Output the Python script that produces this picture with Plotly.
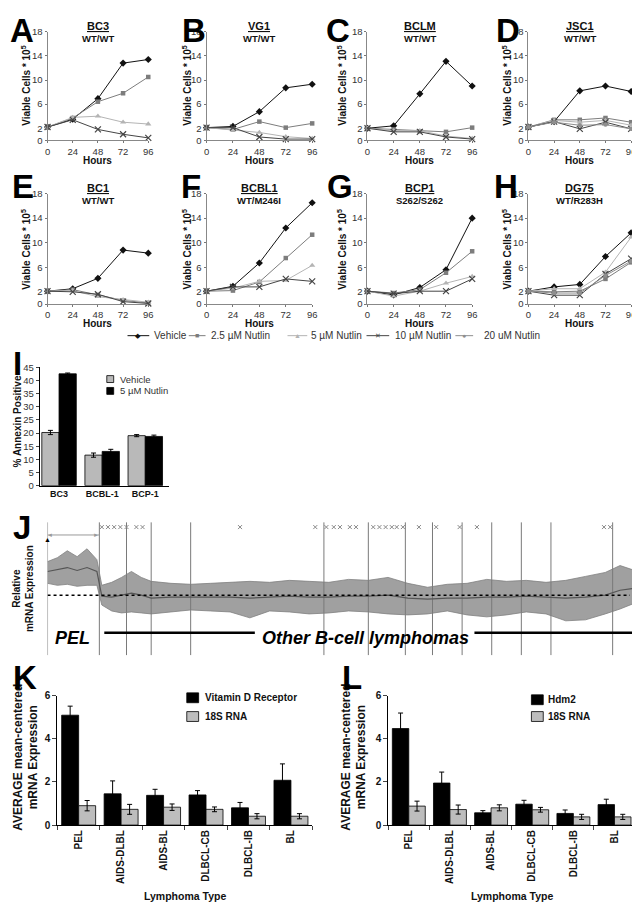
import plotly.graph_objects as go

# ================= DATA =================
hours = [0, 24, 48, 72, 96]
growth_yticks = [0, 2, 6, 10, 14, 18]
treatments = ["Vehicle", "2.5 µM Nutlin", "5 µM Nutlin", "10 µM Nutlin", "20 uM Nutlin"]

cell_lines = ["BC3", "VG1", "BCLM", "JSC1", "BC1", "BCBL1", "BCP1", "DG75"]
genotypes = ["WT/WT", "WT/WT", "WT/WT", "WT/WT", "WT/WT", "WT/M246I", "S262/S262", "WT/R283H"]
panel_letters = ["A", "B", "C", "D", "E", "F", "G", "H"]

# viable cells * 10^5 at 0/24/48/72/96 h
bc3_vehicle = [2.2, 3.5, 6.9, 12.8, 13.4]
bc3_n2_5 = [2.2, 3.7, 6.4, 7.8, 10.5]
bc3_n5 = [2.2, 3.8, 4.0, 3.0, 2.7]
bc3_n10 = [2.2, 3.4, 1.8, 1.0, 0.4]

vg1_vehicle = [2.1, 2.3, 4.75, 8.7, 9.3]
vg1_n2_5 = [2.1, 1.8, 3.1, 2.1, 2.8]
vg1_n5 = [2.1, 1.7, 1.3, 0.6, 0.3]
vg1_n10 = [2.1, 2.1, 0.55, 0.2, 0.2]

bclm_vehicle = [2.0, 2.4, 7.7, 13.1, 9.0]
bclm_n2_5 = [2.0, 1.8, 1.5, 1.4, 2.1]
bclm_n5 = [2.0, 1.6, 1.6, 0.7, 0.3]
bclm_n10 = [2.0, 1.4, 1.4, 0.55, 0.2]

jsc1_vehicle = [2.2, 3.1, 8.2, 9.0, 8.1]
jsc1_n2_5 = [2.2, 3.4, 3.4, 3.7, 3.0]
jsc1_n5 = [2.2, 3.3, 3.0, 3.3, 2.5]
jsc1_n10 = [2.2, 3.1, 1.9, 3.0, 1.9]
jsc1_n20 = [2.2, 3.0, 2.5, 2.6, 1.9]

bc1_vehicle = [2.1, 2.5, 4.2, 8.8, 8.3]
bc1_n2_5 = [2.1, 2.35, 1.5, 0.6, 0.2]
bc1_n5 = [2.1, 2.2, 1.2, 0.7, 0.3]
bc1_n10 = [2.1, 2.0, 1.6, 0.4, 0.1]

bcbl1_vehicle = [2.1, 2.9, 6.7, 12.4, 16.5]
bcbl1_n2_5 = [2.1, 2.2, 3.6, 7.5, 11.3]
bcbl1_n5 = [2.1, 2.6, 3.7, 3.85, 6.3]
bcbl1_n10 = [2.1, 2.8, 2.8, 4.1, 3.7]

bcp1_vehicle = [2.1, 1.5, 2.7, 5.6, 14.0]
bcp1_n2_5 = [2.1, 1.8, 2.35, 5.1, 8.6]
bcp1_n5 = [2.1, 1.3, 2.1, 3.4, 4.5]
bcp1_n10 = [2.1, 1.7, 2.1, 2.1, 4.1]

dg75_vehicle = [2.1, 2.8, 3.2, 7.75, 11.6]
dg75_n2_5 = [2.1, 2.0, 2.1, 4.1, 6.8]
dg75_n5 = [2.1, 2.5, 2.5, 5.2, 10.9]
dg75_n10 = [2.1, 1.45, 1.45, 4.9, 7.4]
dg75_n20 = [2.1, 1.8, 1.8, 4.65, 7.0]

growth = [
    [bc3_vehicle, bc3_n2_5, bc3_n5, bc3_n10, None],
    [vg1_vehicle, vg1_n2_5, vg1_n5, vg1_n10, None],
    [bclm_vehicle, bclm_n2_5, bclm_n5, bclm_n10, None],
    [jsc1_vehicle, jsc1_n2_5, jsc1_n5, jsc1_n10, jsc1_n20],
    [bc1_vehicle, bc1_n2_5, bc1_n5, bc1_n10, None],
    [bcbl1_vehicle, bcbl1_n2_5, bcbl1_n5, bcbl1_n10, None],
    [bcp1_vehicle, bcp1_n2_5, bcp1_n5, bcp1_n10, None],
    [dg75_vehicle, dg75_n2_5, dg75_n5, dg75_n10, dg75_n20],
]

# Panel I : % Annexin positive
annexin_cells = ["BC3", "BCBL-1", "BCP-1"]
annexin_groups = ["Vehicle", "5 µM Nutlin"]
annexin_vehicle = [20.2, 11.6, 19.0]
annexin_vehicle_err = [0.8, 0.8, 0.4]
annexin_nutlin = [42.5, 13.0, 18.7]
annexin_nutlin_err = [0.3, 0.8, 0.5]

# Panel J : expression envelope across samples
j_sample = [0, 4, 8, 12, 16, 20, 22, 26, 30, 34, 38, 42, 50, 58, 66, 74, 82, 90, 98,
            106, 114, 122, 130, 138, 146, 154, 162, 170, 178, 186, 194, 202, 210, 218,
            226, 232, 238]
j_upper = [3.4, 3.8, 4.5, 3.9, 4.7, 3.6, 1.0, 1.3, 1.8, 2.4, 1.8, 1.4, 1.2, 1.1, 1.2,
           1.3, 1.4, 1.3, 1.5, 1.4, 1.3, 1.6, 1.5, 1.8, 1.2, 0.8, 1.1, 1.2, 1.6, 1.4,
           1.5, 1.3, 1.5, 1.9, 2.3, 3.0, 2.5]
j_lower = [1.2, 1.0, 1.1, 0.9, 1.0, 1.0, -1.0, -1.6, -1.8, -1.7, -1.8, -1.9, -1.7, -1.5,
           -1.6, -1.7, -2.3, -1.6, -1.7, -1.9, -1.8, -1.6, -1.7, -1.9, -2.0, -1.9, -1.6,
           -2.0, -2.2, -2.0, -1.7, -1.9, -2.6, -2.5, -1.9, -1.4, -0.8]
j_mean = [2.4, 2.6, 2.8, 2.5, 2.8, 2.4, -0.1, -0.2, 0.0, 0.2, 0.0, -0.3, -0.2, -0.2,
          -0.2, -0.2, -0.3, -0.2, -0.1, -0.2, -0.2, -0.1, -0.1, 0.0, -0.3, -0.4, -0.3,
          -0.3, -0.2, -0.2, -0.1, -0.2, -0.3, -0.2, 0.0, 0.5, 0.7]
j_group_bounds = [0, 21, 32, 42, 58, 112, 130, 145, 156, 168, 180, 192, 204, 229, 238]
j_stars = [22, 24.5, 27, 29.5, 32, 36, 38.5, 78, 108.5, 113, 116, 118.5, 122.5, 125,
           132, 134.5, 137, 139.5, 141.5, 144, 150.5, 157.5, 167, 174, 225.5, 228]

# Panels K / L
lymphoma_types = ["PEL", "AIDS-DLBL", "AIDS-BL", "DLBCL-CB", "DLBCL-IB", "BL"]
vdr_mean = [5.1, 1.45, 1.38, 1.4, 0.8, 2.08]
vdr_err = [0.42, 0.6, 0.28, 0.2, 0.25, 0.76]
k_18s_mean = [0.9, 0.73, 0.83, 0.73, 0.41, 0.41]
k_18s_err = [0.24, 0.23, 0.15, 0.11, 0.12, 0.12]
hdm2_mean = [4.48, 1.95, 0.57, 0.97, 0.54, 0.95]
hdm2_err = [0.72, 0.51, 0.1, 0.18, 0.16, 0.25]
l_18s_mean = [0.88, 0.72, 0.8, 0.71, 0.38, 0.38]
l_18s_err = [0.23, 0.21, 0.14, 0.11, 0.12, 0.12]

# ================= STYLE / LAYOUT =================
W, H = 640, 902
FONT = "Arial, Liberation Sans, sans-serif"


def fx(x):
    return x / W


def fy(y):
    return 1 - y / H


trt_color = ["#111111", "#7d7d7d", "#b4b4b4", "#454545", "#8f8f8f"]
trt_symbol = ["diamond", "square", "triangle-up", "x-thin", "circle"]
trt_size = [5.5, 4.5, 5.5, 6, 4.5]
trt_glyph = ["◆", "■", "▲", "✕", "●"]

col_x = [(37, 139), (198, 305), (361, 467), (524, 628)]
row_y = [(18, 128), (182, 294)]
letter_pos = [(11, 17), (185, 17), (331, 17), (503, 17),
              (12, 175), (182, 175), (333, 175), (501, 175)]
ytitle_x = [15, 178, 335, 502]
ytitle_y = [72, 238]

fig = go.Figure()
layout = dict(width=W, height=H, margin=dict(l=0, r=0, t=0, b=0),
              paper_bgcolor="white", plot_bgcolor="white",
              font=dict(family=FONT, color="#222"),
              barmode="group", bargap=0.2, bargroupgap=0.0,
              showlegend=False)
annotations = []
shapes = []


def ann(x, y, text, size, angle=0, xanchor="center", yanchor="middle", color="#111", **kw):
    annotations.append(dict(xref="paper", yref="paper", x=fx(x), y=fy(y), text=text,
                            showarrow=False, textangle=angle, xanchor=xanchor,
                            yanchor=yanchor, font=dict(size=size, family=FONT, color=color), **kw))


def pline(x0, y0, x1, y1, color, width=1):
    shapes.append(dict(type="line", xref="paper", yref="paper", x0=fx(x0), x1=fx(x1),
                       y0=fy(y0), y1=fy(y1), line=dict(color=color, width=width)))


def prect(x0, y0, x1, y1, fill):
    shapes.append(dict(type="rect", xref="paper", yref="paper", x0=fx(x0), x1=fx(x1),
                       y0=fy(y1), y1=fy(y0), fillcolor=fill,
                       line=dict(color="#000", width=0.8)))


for i in range(8):
    n = i + 1
    r, c = divmod(i, 4)
    x0, x1 = col_x[c]
    y0, y1 = row_y[r]
    xa, ya = f"x{n}", f"y{n}"
    layout[f"xaxis{n}"] = dict(domain=[fx(x0), fx(x1)], anchor=ya, range=[0, 96],
                               tickvals=hours, ticks="outside", ticklen=2, tickcolor="#777",
                               showline=True, linecolor="#888", linewidth=1,
                               showgrid=False, zeroline=False,
                               tickfont=dict(size=9.5, color="#333", family=FONT))
    layout[f"yaxis{n}"] = dict(domain=[fy(y1), fy(y0)], anchor=xa, range=[0, 18],
                               tickvals=growth_yticks, ticks="outside", ticklen=2,
                               tickcolor="#777", showline=True, linecolor="#888",
                               linewidth=1, showgrid=False, zeroline=False,
                               tickfont=dict(size=9.5, color="#333", family=FONT))
    for t in range(5):
        vals = growth[i][t]
        if vals is None:
            continue
        fig.add_trace(go.Scatter(
            x=hours, y=vals, xaxis=xa, yaxis=ya, mode="lines+markers",
            name=treatments[t],
            line=dict(color=trt_color[t], width=1),
            marker=dict(symbol=trt_symbol[t], size=trt_size[t], color=trt_color[t],
                        line=dict(width=1.2 if t == 3 else 0, color=trt_color[t])),
            cliponaxis=False))
    cx = (x0 + x1) / 2
    ann(cx, y0 - 6, f"<b><u>{cell_lines[i]}</u></b>", 11)
    ann(cx, y0 + 7, f"<b>{genotypes[i]}</b>", 9.5)
    ann(cx, y1 + 20, "<b>Hours</b>", 10)
    ann(ytitle_x[c], ytitle_y[r], "<b>Viable Cells * 10<sup>5</sup></b>", 10, angle=-90)
    lx, ly = letter_pos[i]
    ann(lx, ly, f"<b>{panel_letters[i]}</b>", 33, color="#000")

# growth-curve key (row under panels E-H)
key_line = [(118, 140), (180, 197), (280, 300), (360, 383), (450, 468)]
key_text_x = [143, 200, 302, 387, 477]
for t in range(5):
    a, b = key_line[t]
    pline(a, 326, b, 326, trt_color[t], 1)
    ann((a + b) / 2, 326, trt_glyph[t], 7, color=trt_color[t])
    ann(key_text_x[t], 326, treatments[t], 10, xanchor="left", color="#333")

# ---------- Panel I ----------
layout["xaxis9"] = dict(domain=[fx(29), fx(160)], anchor="y9", type="category",
                        range=[-0.45, 2.55], showline=True, linecolor="#000",
                        ticks="", showgrid=False, zeroline=False,
                        tickfont=dict(size=9, color="#111", family=FONT, weight="bold"))
layout["yaxis9"] = dict(domain=[fy(478), fy(358)], anchor="x9", range=[0, 45],
                        tickvals=list(range(0, 50, 5)), ticks="outside", ticklen=3,
                        showline=True, linecolor="#000", showgrid=False, zeroline=False,
                        tickfont=dict(size=9.5, color="#333", family=FONT))
fig.add_trace(go.Bar(x=annexin_cells, y=annexin_vehicle, xaxis="x9", yaxis="y9",
                     name=annexin_groups[0],
                     marker=dict(color="#b9b9b9", line=dict(color="#000", width=0.8)),
                     error_y=dict(type="data", array=annexin_vehicle_err, color="#000",
                                  thickness=1, width=2.5)))
fig.add_trace(go.Bar(x=annexin_cells, y=annexin_nutlin, xaxis="x9", yaxis="y9",
                     name=annexin_groups[1],
                     marker=dict(color="#000", line=dict(color="#000", width=0.8)),
                     error_y=dict(type="data", array=annexin_nutlin_err, color="#000",
                                  thickness=1, width=2.5)))
prect(97, 366.5, 104, 373.5, "#b9b9b9")
prect(97, 378.5, 104, 385.5, "#000")
ann(108, 370, annexin_groups[0], 9.5, xanchor="left", color="#333")
ann(108, 382, annexin_groups[1], 9.5, xanchor="left", color="#333")
ann(7, 413, "<b>% Annexin Positive</b>", 10, angle=-90)
ann(0, 354, "<b>I</b>", 33, xanchor="left", color="#000")

# ---------- Panel J ----------
JY = (-6.1, 7.4)
layout["xaxis10"] = dict(domain=[fx(37), fx(633)], anchor="y10", range=[0, 238.5],
                         visible=False)
layout["yaxis10"] = dict(domain=[fy(650), fy(515)], anchor="x10", range=list(JY),
                         visible=False)
for b in j_group_bounds:
    shapes.append(dict(type="line", xref="x10", yref="y10", x0=b, x1=b, y0=JY[0],
                       y1=JY[1], line=dict(color="#7a7a7a", width=1), layer="below"))
fig.add_trace(go.Scatter(x=j_sample, y=j_lower, xaxis="x10", yaxis="y10",
                         mode="lines", line=dict(color="#808080", width=0.8),
                         hoverinfo="skip"))
fig.add_trace(go.Scatter(x=j_sample, y=j_upper, xaxis="x10", yaxis="y10",
                         mode="lines", line=dict(color="#808080", width=0.8),
                         fill="tonexty", fillcolor="rgba(120,120,120,0.7)",
                         hoverinfo="skip"))
fig.add_trace(go.Scatter(x=j_sample, y=j_mean, xaxis="x10", yaxis="y10",
                         mode="lines", line=dict(color="#555555", width=1.2),
                         hoverinfo="skip"))
fig.add_trace(go.Scatter(x=j_stars, y=[6.9] * len(j_stars), xaxis="x10", yaxis="y10",
                         mode="markers", hoverinfo="skip",
                         marker=dict(symbol="x-thin", size=4, color="#888",
                                     line=dict(width=1, color="#888")),
                         cliponaxis=False))
shapes.append(dict(type="line", xref="x10", yref="y10", x0=0, x1=236, y0=0, y1=0,
                   line=dict(color="#000", width=1.5, dash="dot")))
shapes.append(dict(type="line", xref="x10", yref="y10", x0=0, x1=21, y0=6.1, y1=6.1,
                   line=dict(color="#999", width=1)))
shapes.append(dict(type="line", xref="x10", yref="y10", x0=23, x1=84, y0=-3.8, y1=-3.8,
                   line=dict(color="#000", width=2.5)))
shapes.append(dict(type="line", xref="x10", yref="y10", x0=173, x1=237, y0=-3.8, y1=-3.8,
                   line=dict(color="#000", width=2.5)))
ann(632, 589, "►", 6, color="#000")
ann(37, 533, "▲", 7, color="#000")
ann(39.5, 528, "◄", 6, color="#999")
ann(86.5, 528, "►", 6, color="#999")
ann(62, 632, "<b><i>PEL</i></b>", 18, color="#000")
ann(359, 632, "<b><i>Other B-cell lymphomas</i></b>", 18, color="#000")
ann(12, 582, "<b>Relative<br>mRNA Expression</b>", 10, angle=-90)
ann(0, 520, "<b>J</b>", 33, xanchor="left", color="#000")

# ---------- Panels K & L ----------
panels_kl = [
    (11, (47, 305), [("Vitamin D Receptor", vdr_mean, vdr_err, "#000"),
                     ("18S RNA", k_18s_mean, k_18s_err, "#bdbdbd")], 15, (178, 194), (693, 712)),
    (12, (382, 632), [("Hdm2", hdm2_mean, hdm2_err, "#000"),
                      ("18S RNA", l_18s_mean, l_18s_err, "#bdbdbd")], 347, (527, 542), (695, 712)),
]
for n, (x0, x1), series, ytx, (bx, tx), key_y in panels_kl:
    layout[f"xaxis{n}"] = dict(domain=[fx(x0), fx(x1)], anchor=f"y{n}", type="category",
                               range=[-0.5, 5.5], showline=True, linecolor="#000",
                               ticks="outside", tickson="boundaries", ticklen=4,
                               tickangle=-90, showgrid=False, zeroline=False,
                               tickfont=dict(size=10, color="#111", family=FONT,
                                             weight="bold"))
    layout[f"yaxis{n}"] = dict(domain=[fy(822), fy(691)], anchor=f"x{n}", range=[0, 6],
                               tickvals=[0, 2, 4, 6], ticks="outside", ticklen=4,
                               showline=True, linecolor="#000", showgrid=False,
                               zeroline=False,
                               tickfont=dict(size=10, color="#111", family=FONT,
                                             weight="bold"))
    for k, (name, mean, err, col) in enumerate(series):
        fig.add_trace(go.Bar(x=lymphoma_types, y=mean, xaxis=f"x{n}", yaxis=f"y{n}",
                             name=name,
                             marker=dict(color=col, line=dict(color="#000", width=0.8)),
                             error_y=dict(type="data", array=err, color="#000",
                                          thickness=1, width=2.5)))
        ky = key_y[k]
        prect(bx, ky - 5, bx + 12, ky + 5, col)
        ann(tx, ky, f"<b>{name}</b>", 10, xanchor="left", color="#111")
    ann((x0 + x1) / 2, 894, "<b>Lymphoma Type</b>", 10.5)
    ann(ytx, 753, "<b>AVERAGE mean-centered<br>mRNA Expression</b>", 12, angle=-90)

ann(0, 672, "<b>K</b>", 33, xanchor="left", color="#000")
ann(333, 672, "<b>L</b>", 33, xanchor="left", color="#000")

layout["annotations"] = annotations
layout["shapes"] = shapes
fig.update_layout(**layout)
fig.write_html("out.html")
